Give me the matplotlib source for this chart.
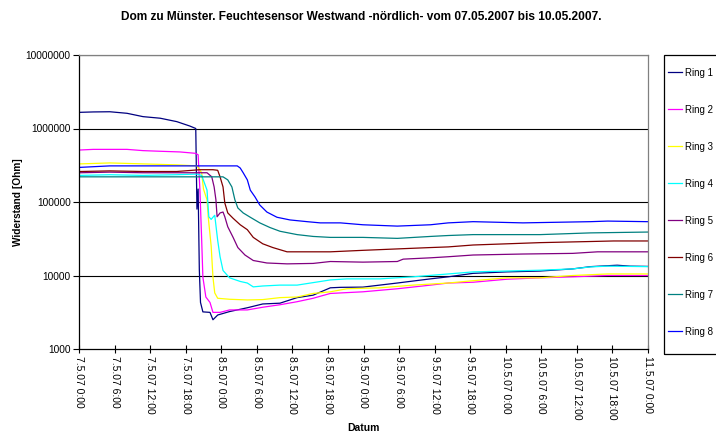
import matplotlib
matplotlib.use("Agg")
import matplotlib.pyplot as plt
from matplotlib.patches import Rectangle
import matplotlib.ticker as mticker

plt.rcParams['font.family'] = ['Liberation Sans', 'DejaVu Sans']

TITLE = "Dom zu Münster. Feuchtesensor Westwand -nördlich- vom 07.05.2007 bis 10.05.2007."
Y_LABEL = "Widerstand [Ohm]"
X_LABEL = "Datum"

# time in hours since 07.05.2007 0:00
x_ticks = [0, 6, 12, 18, 24, 30, 36, 42, 48, 54, 60, 66, 72, 78, 84, 90, 96]
x_tick_labels = ["7.5.07 0:00", "7.5.07 6:00", "7.5.07 12:00", "7.5.07 18:00",
                 "8.5.07 0:00", "8.5.07 6:00", "8.5.07 12:00", "8.5.07 18:00",
                 "9.5.07 0:00", "9.5.07 6:00", "9.5.07 12:00", "9.5.07 18:00",
                 "10.5.07 0:00", "10.5.07 6:00", "10.5.07 12:00", "10.5.07 18:00",
                 "11.5.07 0:00"]
y_ticks = [1000, 10000, 100000, 1000000, 10000000]
y_tick_labels = ["1000", "10000", "100000", "1000000", "10000000"]

labels = ["Ring 1", "Ring 2", "Ring 3", "Ring 4", "Ring 5", "Ring 6", "Ring 7", "Ring 8"]
colors = ["#000080", "#FF00FF", "#FFFF00", "#00FFFF", "#800080", "#800000", "#008080", "#0000FF"]

ring1_t = [0.2, 2.4, 5.2, 8.1, 10.8, 13.7, 16.5, 18.7, 19.7, 19.9, 20.1, 20.3, 20.5, 20.9,
           22.1, 22.6, 23.4, 25.4, 28.4, 31.0, 33.9, 36.8, 39.5, 42.4, 44.1, 47.9, 53.7,
           59.3, 62.3, 66.5, 72.2, 77.8, 83.3, 86.3, 90.8, 93.0, 95.9]
ring1_v = [1.66e6, 1.68e6, 1.69e6, 1.61e6, 1.45e6, 1.38e6, 1.24e6, 1.08e6, 1.0e6, 8.0e4,
           1.5e5, 1.2e4, 4300, 3200, 3150, 2500, 2900, 3230, 3640, 4100, 4200, 5000, 5400,
           6800, 6900, 6950, 7900, 9000, 9600, 10700, 11200, 11500, 12300, 13200, 13800,
           13400, 13300]

ring2_t = [0.2, 2.4, 8.1, 10.8, 13.7, 17.0, 19.6, 20.1, 20.4, 20.7, 20.9, 21.4, 22.1, 22.6,
           23.8, 25.4, 28.4, 31.0, 33.9, 36.8, 39.5, 42.4, 47.9, 53.7, 59.3, 62.3, 66.5,
           72.2, 77.8, 83.3, 89.2, 95.9]
ring2_v = [5.1e5, 5.2e5, 5.2e5, 5.0e5, 4.9e5, 4.8e5, 4.6e5, 4.4e5, 1.45e5, 3.0e4, 9500,
           5100, 4300, 3150, 3150, 3400, 3400, 3700, 4000, 4400, 4900, 5700, 6000, 6600,
           7400, 7900, 8100, 8900, 9300, 9600, 10000, 10000]

ring3_t = [0.2, 5.2, 10.8, 16.5, 19.9, 20.7, 21.0, 21.6, 21.8, 22.3, 22.6, 22.9, 23.4,
           25.4, 28.4, 31.0, 33.9, 36.8, 39.5, 42.4, 45.2, 50.8, 56.4, 62.3, 66.5, 72.2,
           77.8, 83.3, 89.2, 95.9]
ring3_v = [3.3e5, 3.4e5, 3.3e5, 3.2e5, 3.1e5, 2.5e5, 1.5e5, 1.07e5, 6.3e4, 2.5e4, 9500,
           5800, 4900, 4750, 4650, 4700, 5000, 5100, 5700, 6000, 6600, 6800, 7400, 7900,
           8500, 9300, 9300, 10000, 10500, 10500]

ring4_t = [0.2, 5.2, 10.8, 16.5, 19.9, 20.7, 21.6, 21.9, 22.3, 22.6, 22.9, 23.4, 23.8,
           24.3, 25.4, 27.2, 28.4, 29.4, 31.0, 33.9, 36.8, 39.5, 42.4, 45.2, 50.8, 56.4,
           62.3, 66.5, 72.2, 77.8, 83.3, 86.3, 89.2, 95.9]
ring4_v = [2.3e5, 2.35e5, 2.3e5, 2.35e5, 2.4e5, 2.3e5, 1.45e5, 6.3e4, 5.8e4, 6.2e4, 6.6e4,
           3.0e4, 1.8e4, 1.17e4, 9300, 8300, 7900, 7000, 7200, 7400, 7400, 8000, 8700, 9000,
           9000, 9600, 10500, 11200, 11500, 11800, 12300, 13100, 13400, 13200]

ring5_t = [0.2, 5.2, 10.8, 16.5, 20.4, 21.6, 22.4, 22.8, 23.1, 23.3, 23.8, 24.3, 24.6,
           25.1, 26.0, 26.8, 28.0, 29.4, 31.7, 35.1, 39.5, 42.4, 47.9, 53.7, 54.7, 59.3,
           62.3, 66.5, 74.9, 83.3, 87.5, 95.9]
ring5_v = [2.5e5, 2.55e5, 2.5e5, 2.5e5, 2.5e5, 2.5e5, 2.2e5, 1.6e5, 1.07e5, 6.3e4, 7.1e4,
           7.3e4, 6.3e4, 4.6e4, 3.3e4, 2.4e4, 1.9e4, 1.6e4, 1.48e4, 1.44e4, 1.46e4, 1.55e4,
           1.52e4, 1.55e4, 1.67e4, 1.74e4, 1.8e4, 1.9e4, 1.96e4, 2.0e4, 2.1e4, 2.1e4]

ring6_t = [0.2, 5.2, 10.8, 16.5, 20.4, 22.6, 23.4, 23.8, 24.3, 24.6, 25.1, 26.0, 27.2,
           28.4, 29.4, 31.0, 32.7, 35.1, 39.5, 42.4, 47.9, 53.7, 59.3, 62.3, 66.5, 77.8,
           86.3, 90.2, 95.9]
ring6_v = [2.6e5, 2.65e5, 2.6e5, 2.6e5, 2.75e5, 2.75e5, 2.7e5, 2.2e5, 1.6e5, 9.7e4, 7.1e4,
           6.0e4, 4.9e4, 4.2e4, 3.3e4, 2.7e4, 2.4e4, 2.1e4, 2.1e4, 2.1e4, 2.2e4, 2.3e4,
           2.4e4, 2.45e4, 2.6e4, 2.8e4, 2.9e4, 2.95e4, 2.95e4]

ring7_t = [0.2, 5.2, 10.8, 16.5, 20.4, 24.3, 25.1, 25.8, 26.3, 26.8, 27.7, 28.9, 30.5,
           32.2, 33.9, 36.8, 39.5, 42.4, 47.9, 53.7, 59.3, 62.3, 66.5, 77.8, 86.3, 95.9]
ring7_v = [2.2e5, 2.2e5, 2.2e5, 2.2e5, 2.2e5, 2.2e5, 2.0e5, 1.6e5, 1.07e5, 8.3e4, 7.1e4,
           6.2e4, 5.2e4, 4.5e4, 4.0e4, 3.6e4, 3.4e4, 3.3e4, 3.3e4, 3.2e4, 3.4e4, 3.5e4,
           3.6e4, 3.6e4, 3.8e4, 3.9e4]

ring8_t = [0.2, 5.2, 10.8, 16.5, 20.4, 26.7, 27.2, 27.7, 28.4, 28.9, 29.7, 30.5, 31.7,
           33.4, 35.6, 38.5, 40.7, 44.1, 47.9, 53.7, 59.3, 62.3, 66.5, 74.9, 86.3, 89.2, 95.9]
ring8_v = [2.96e5, 3.1e5, 3.1e5, 3.1e5, 3.1e5, 3.1e5, 2.9e5, 2.5e5, 2.0e5, 1.45e5, 1.17e5,
           9.1e4, 7.3e4, 6.2e4, 5.7e4, 5.4e4, 5.2e4, 5.2e4, 4.9e4, 4.7e4, 4.9e4, 5.2e4,
           5.4e4, 5.2e4, 5.4e4, 5.5e4, 5.4e4]

series = [(ring1_t, ring1_v), (ring2_t, ring2_v), (ring3_t, ring3_v), (ring4_t, ring4_v),
          (ring5_t, ring5_v), (ring6_t, ring6_v), (ring7_t, ring7_v), (ring8_t, ring8_v)]

W, H = 716, 433
fig = plt.figure(figsize=(W / 100, H / 100), dpi=100)
ax = fig.add_axes([79 / W, 1 - 349 / H, (648 - 79) / W, (349 - 55) / H])

ax.set_yscale('log')
ax.set_ylim(1000, 1e7)
ax.set_xlim(x_ticks[0], x_ticks[-1])

for yv in y_ticks[1:]:
    ax.axhline(yv, color='black', lw=0.8, zorder=1)

handles = []
for (t, v), c, lab in zip(series, colors, labels):
    ln, = ax.plot(t, v, color=c, lw=0.9, label=lab, zorder=2)
    handles.append(ln)

ax.set_yticks(y_ticks)
ax.set_yticklabels(y_tick_labels, fontsize=7.3)
ax.yaxis.set_minor_locator(mticker.NullLocator())
ax.set_xticks(x_ticks)
ax.set_xticklabels(x_tick_labels, fontsize=7.5, rotation=-90, va='top', ha='center')
ax.tick_params(axis='y', direction='out', length=4, width=0.8, pad=2)
ax.tick_params(axis='x', direction='inout', length=6, width=0.8, pad=2)

for s in ['left', 'bottom']:
    ax.spines[s].set_color('black')
    ax.spines[s].set_linewidth(0.9)
for s in ['top', 'right']:
    ax.spines[s].set_color('#808080')
    ax.spines[s].set_linewidth(0.9)

ax.set_ylabel(Y_LABEL, fontsize=7.3, fontweight='bold')
ax.yaxis.set_label_coords(-(79 - 23) / (648 - 79), 0.5)
fig.text(363 / W, 1 - 428 / H, X_LABEL, fontsize=7.5, fontweight='bold', ha='center', va='center')
fig.text(361 / W, 1 - 17 / H, TITLE, fontsize=8.6, fontweight='bold', ha='center', va='center')

fig.add_artist(Rectangle((664 / W, 1 - 354 / H), 0.2, (354 - 55) / H,
                         transform=fig.transFigure, fill=False, ec='black', lw=0.9))
fig.legend(handles, labels, loc='upper left', bbox_to_anchor=(668 / W, 1 - 67.5 / H),
           frameon=False, fontsize=7, borderpad=0, borderaxespad=0, labelspacing=2.78,
           handlelength=1.45, handletextpad=0.25)

fig.savefig("out.png", dpi=100)
